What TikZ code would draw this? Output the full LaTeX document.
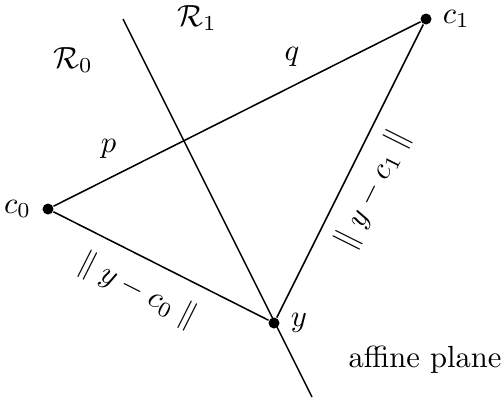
\documentclass[tikz,border=0pt]{standalone}
\usepackage{amsmath,amssymb}
\usepackage{xcolor}
\usepackage{tikz}

\begin{document}
\begin{tikzpicture}[x=0.327pt,y=0.327pt,
  pt/.style={circle,fill,inner sep=0pt,minimum size=3.6pt},
  seg/.style={line width=0.5pt}]
\useasboundingbox (0,0) rectangle (503,401);
\node[pt,label={[label distance=0pt]left:$c_0$}](c0) at (48,192){};
\node[pt,label={[label distance=0pt]right:$c_1$}](c1) at (426,382){};
\node[pt,label={[label distance=0pt]right:$y$}](y) at (274,78){};
\coordinate (top) at (123,382);
\coordinate (bot) at (312,4);
\draw[seg](top)--(bot);
\draw[seg](c0)--node[pos=0.15,above=3pt]{$p$}node[pos=0.65,above=3pt]{$q$}(c1);
\draw[seg](c0)--node[pos=0.46,sloped,below=2pt]{$\parallel y-c_0\parallel$}(y);
\draw[seg](y)--node[pos=0.48,sloped,below=1pt]{$\parallel y-c_1\parallel$}(c1);
\node(r0) at (73,341){$\mathcal{R}_0$};
\node(r1) at (197,383){$\mathcal{R}_1$};
\node(aff) at (425,41){affine plane};
\end{tikzpicture}
\end{document}
